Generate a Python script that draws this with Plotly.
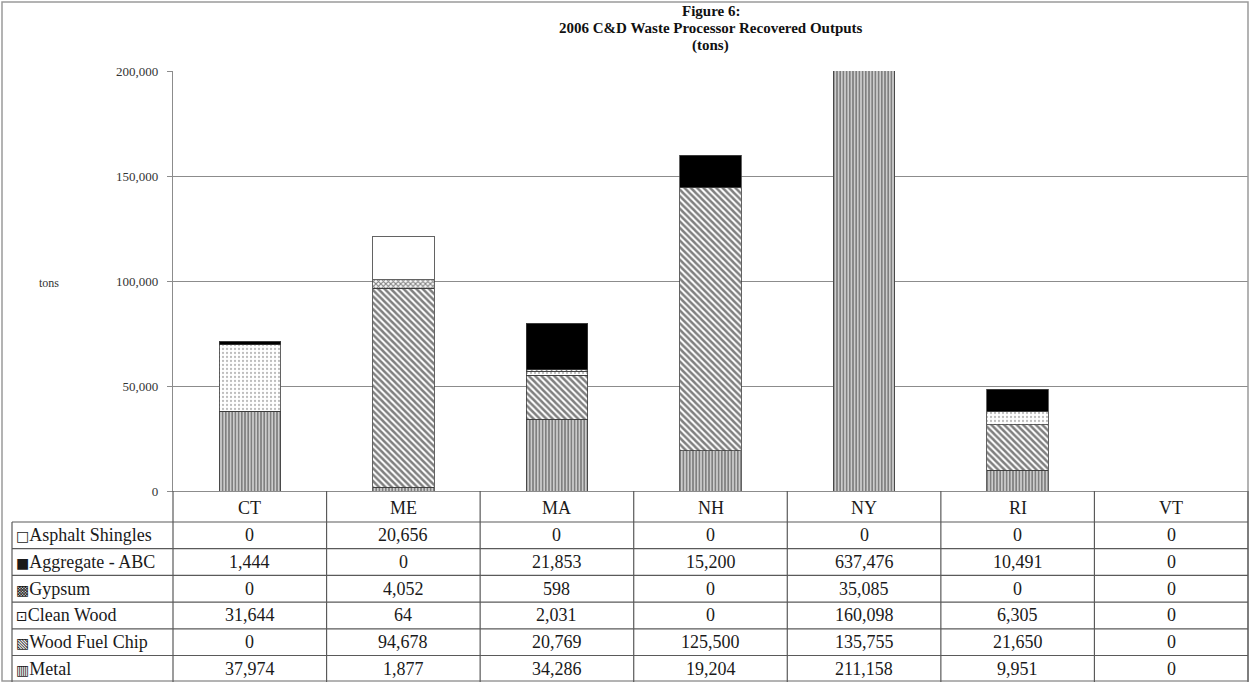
import plotly.graph_objects as go

# Recovered outputs by state (tons)
states = ["CT", "ME", "MA", "NH", "NY", "RI", "VT"]
asphalt_shingles = [0, 20656, 0, 0, 0, 0, 0]
aggregate_abc = [1444, 0, 21853, 15200, 637476, 10491, 0]
gypsum = [0, 4052, 598, 0, 35085, 0, 0]
clean_wood = [31644, 64, 2031, 0, 160098, 6305, 0]
wood_fuel_chip = [0, 94678, 20769, 125500, 135755, 21650, 0]
metal = [37974, 1877, 34286, 19204, 211158, 9951, 0]

y_ticks = [0, 50000, 100000, 150000, 200000]

W, H = 1250, 682
L, R, T, B = 173, 1248, 71, 491          # plot area in pixels
SERIF = "Liberation Serif, Times New Roman, serif"
LINE = "#5a5a5a"
GRID = "#8c8c8c"


def px(x):
    return (x - L) / (R - L)


def py(y):
    return (B - y) / (B - T)


# stacking order, bottom to top, with fill styles
series = [
    ("Metal", metal, dict(shape="|", fgcolor="#000000", bgcolor="#ffffff", size=3.2, solidity=0.7), "▥"),
    ("Wood Fuel Chip", wood_fuel_chip, dict(shape="\\", fgcolor="#000000", bgcolor="#ffffff", size=4.5, solidity=0.55), "▧"),
    ("Clean Wood", clean_wood, dict(shape=".", fgcolor="#7a7a7a", bgcolor="#ffffff", size=4, solidity=0.25), "⊡"),
    ("Gypsum", gypsum, dict(shape="x", fgcolor="#000000", bgcolor="#ffffff", size=3.5, solidity=0.55), "▩"),
    ("Aggregate - ABC", aggregate_abc, dict(shape="", fgcolor="#000000", bgcolor="#000000"), "■"),
    ("Asphalt Shingles", asphalt_shingles, dict(shape="", fgcolor="#ffffff", bgcolor="#ffffff"), "□"),
]

fig = go.Figure()
for name, vals, pat, _sym in series:
    color = pat["bgcolor"] if pat["shape"] == "" else "#ffffff"
    fig.add_trace(go.Bar(
        x=states, y=vals, name=name,
        marker=dict(color=color, pattern=pat, line=dict(color="#3c3c3c", width=0.8)),
        showlegend=False,
    ))

shapes = []
annotations = []

# outer frame
shapes.append(dict(type="rect", xref="paper", yref="paper",
                   x0=px(2), x1=px(1248), y0=py(681), y1=py(2),
                   line=dict(color="#9a9a9a", width=1.5), layer="above"))

# data table grid
row_edges = [522, 548.7, 575.4, 602.1, 628.8, 655.5, 682]
for yy in row_edges[:-1]:
    shapes.append(dict(type="line", xref="paper", yref="paper",
                       x0=px(12), x1=px(R), y0=py(yy), y1=py(yy),
                       line=dict(color=LINE, width=1.2)))
shapes.append(dict(type="line", xref="paper", yref="paper",
                   x0=px(12), x1=px(12), y0=py(522), y1=py(682),
                   line=dict(color=LINE, width=1.2)))
n = len(states)
for k in range(n + 1):
    xx = L + (R - L) * k / n
    shapes.append(dict(type="line", xref="paper", yref="paper",
                       x0=px(xx), x1=px(xx), y0=py(B), y1=py(682),
                       line=dict(color=LINE, width=1.2)))

TABLE_FONT = dict(family=SERIF, size=18, color="#1a1a1a")

# header row: state names
for s in states:
    annotations.append(dict(x=s, xref="x", y=py(508), yref="paper", text=s,
                            showarrow=False, xanchor="center", yanchor="middle",
                            font=TABLE_FONT))

# table rows (top to bottom: reverse of stacking order)
table_rows = list(reversed(series))
for i, (name, vals, _pat, sym) in enumerate(table_rows):
    yc = (row_edges[i] + row_edges[i + 1]) / 2
    annotations.append(dict(
        x=px(14), xref="paper", y=py(yc), yref="paper",
        text=f'<span style="font-family:DejaVu Sans;font-size:14px">{sym}</span>{name}',
        showarrow=False, xanchor="left", yanchor="middle",
        font=TABLE_FONT))
    for s, v in zip(states, vals):
        annotations.append(dict(x=s, xref="x", y=py(yc), yref="paper",
                                text=f"{v:,}", showarrow=False,
                                xanchor="center", yanchor="middle",
                                font=TABLE_FONT))

# title lines
for text, yc in [("<b>Figure 6:</b>", 11),
                 ("<b>2006 C&amp;D Waste Processor Recovered Outputs</b>", 28),
                 ("<b>(tons)</b>", 45)]:
    annotations.append(dict(x=0.5, xref="paper", y=py(yc), yref="paper", text=text,
                            showarrow=False, xanchor="center", yanchor="middle",
                            font=dict(family=SERIF, size=15, color="#111111")))

# y-axis title
annotations.append(dict(x=px(49), xref="paper", y=py(283), yref="paper", text="tons",
                        showarrow=False, xanchor="center", yanchor="middle",
                        font=dict(family=SERIF, size=12, color="#333333")))

fig.update_layout(
    width=W, height=H,
    margin=dict(l=L, r=W - R, t=T, b=H - B, pad=0),
    paper_bgcolor="#ffffff", plot_bgcolor="#ffffff",
    barmode="stack", bargap=0.6,
    shapes=shapes, annotations=annotations,
    xaxis=dict(showticklabels=False, ticks="", showgrid=False,
               showline=True, linecolor=GRID, linewidth=1.3, zeroline=False,
               range=[-0.5, n - 0.5]),
    yaxis=dict(range=[0, 200000], tickvals=y_ticks, tickformat=",",
               ticks="outside", ticklen=5, tickcolor=GRID, tickwidth=1.2,
               ticklabelstandoff=6,
               tickfont=dict(family=SERIF, size=13, color="#333333"),
               showgrid=True, gridcolor=GRID, gridwidth=1.3,
               showline=True, linecolor=GRID, linewidth=1.3, zeroline=False),
)

fig.write_html("out.html")
